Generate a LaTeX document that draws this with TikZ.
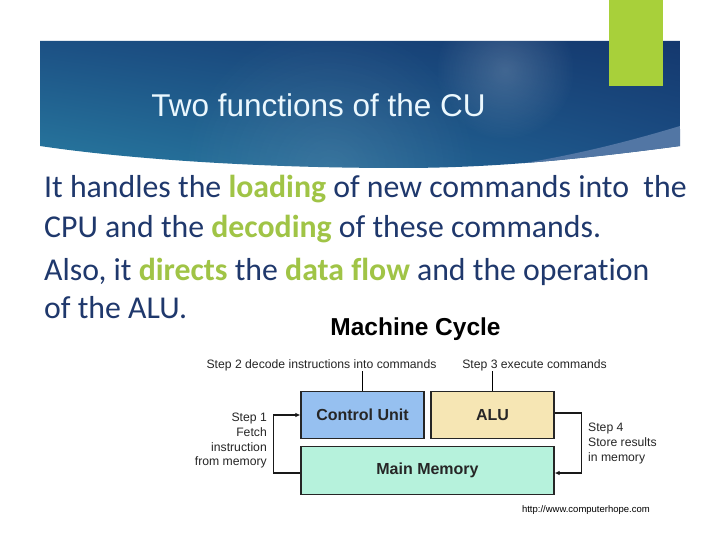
\documentclass[tikz,border=0pt]{standalone}
\usepackage{fontspec}
\setmainfont{Carlito}[Ligatures=NoCommon]
\newfontfamily\arialfont{Liberation Sans}
\usetikzlibrary{arrows.meta,positioning,shadings,fadings}
\definecolor{bodyblue}{RGB}{31,56,108}
\definecolor{hilite}{RGB}{160,196,70}
\definecolor{limebar}{RGB}{168,208,58}
\definecolor{bannerUL}{RGB}{28,80,132}
\definecolor{bannerUR}{RGB}{20,56,110}
\definecolor{bannerLL}{RGB}{40,122,160}
\definecolor{bannerLR}{RGB}{28,80,134}
\definecolor{sliver}{RGB}{82,118,164}
\definecolor{cufill}{RGB}{150,192,240}
\definecolor{alufill}{RGB}{246,230,180}
\definecolor{memfill}{RGB}{182,242,220}
\newcommand{\hl}[1]{\textcolor{hilite}{\textbf{#1}}}
\tikzfading[name=glowfade, inner color=transparent!0, outer color=transparent!100]

\begin{document}
\begin{tikzpicture}[x=1pt, y=-1pt, >={Latex[length=5pt,width=4.5pt]},
unitbox/.style={draw=black!85, line width=1.2pt, minimum height=47pt, font=\arialfont\bfseries\fontsize{16}{18}\selectfont, text=black!85},
steptext/.style={font=\arialfont\fontsize{12.2}{14.7}\selectfont, inner sep=0pt, text=black!85},
bodyline/.style={anchor=base west, inner sep=0pt, text=bodyblue, font=\fontsize{31.8}{38}\selectfont},
wire/.style={line width=1.4pt, black!90}]

\useasboundingbox (0,0) rectangle (720,540);
\fill[white] (0,0) rectangle (720,540);

% title banner
\begin{scope}
\clip (40,41) -- (680,41) -- (680,146) .. controls (560,162) and (480,168) .. (400,168) .. controls (250,168) and (120,158) .. (40,146) -- cycle;
\shade[upper left=bannerUL, upper right=bannerUR, lower left=bannerLL, lower right=bannerLR] (40,41) rectangle (680,170);
\fill[white, opacity=0.18, path fading=glowfade] (505,70) circle (70);
\fill[white, opacity=0.10, path fading=glowfade] (330,170) circle (150);
\fill[sliver] (680,126) .. controls (640,138) and (580,155) .. (500,167) -- (500,200) -- (700,200) -- cycle;
\end{scope}
\fill[limebar] (609,0) rectangle (663,86);
\node[anchor=base, text=white!92!cyan, font=\arialfont\fontsize{31.5}{36}\selectfont] (title) at (318.5,117) {Two functions of the CU};

% body text
\node[bodyline] (ln1) at (44,198) {It handles the \hl{loading} of new commands into\ \ the};
\node[bodyline] (ln2) at (44,237) {CPU and the \hl{decoding} of these commands.};
\node[bodyline] (ln3) at (44,280) {Also, it \hl{directs} the \hl{data flow} and the operation};
\node[bodyline] (ln4) at (44,318) {of the ALU.};

% machine cycle
\node[anchor=base, font=\arialfont\bfseries\fontsize{24.5}{28}\selectfont] (mc) at (415.5,335.5) {Machine Cycle};
\node[unitbox, fill=cufill, minimum width=123pt] (cu) at (362.5,415) {Control Unit};
\node[unitbox, fill=alufill, minimum width=123pt] (alu) at (492.5,415) {ALU};
\node[unitbox, fill=memfill, minimum width=253pt, minimum height=48pt] (mem) at (427.5,470.5) {Main Memory};
\node[steptext, anchor=base] (s2) at (321.5,368) {Step 2 decode instructions into commands};
\node[steptext, anchor=base] (s3) at (534.5,368) {Step 3 execute commands};
\node[steptext, align=right, anchor=north east] (s1) at (267,413) {Step 1\\Fetch\\instruction\\from memory};
\node[steptext, align=left, anchor=north west] (s4) at (588,423) {Step 4\\Store results\\in memory};
\node[anchor=base east, inner sep=0pt, font=\arialfont\fontsize{9.5}{11}\selectfont] (url) at (650,512) {http://www.computerhope.com};

\draw[line width=1.2pt] (cu.north) -- (cu.north |- s2.south);
\draw[line width=1.2pt] (alu.north) -- (alu.north |- s3.south);
\draw[wire, ->] ([yshift=-2.5pt]mem.west) -- ++(-27,0) |- (cu.west);
\draw[wire, ->] ([yshift=2pt]alu.east) -- ++(27,0) |- ([yshift=-2.5pt]mem.east);
\end{tikzpicture}
\end{document}
